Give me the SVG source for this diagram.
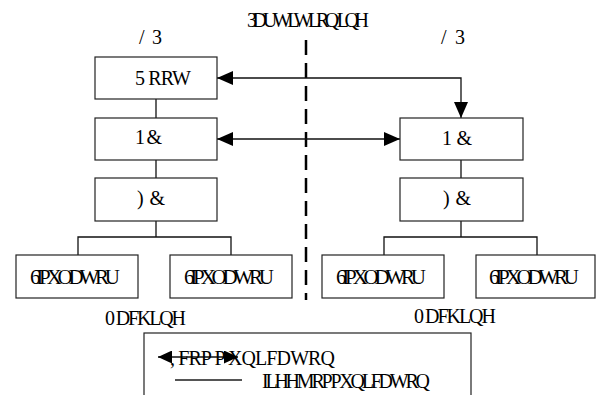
<svg xmlns="http://www.w3.org/2000/svg" width="596" height="395" viewBox="0 0 596 395">
<style>
.box{fill:#fff;stroke:#222;stroke-width:1.2}
.t{font-family:"Liberation Serif","Times New Roman",serif;font-size:20px;fill:#000}
.s{font-size:21px}
.c{fill:none;stroke:#111;stroke-width:1.3}
.a{marker-start:url(#ah);marker-end:url(#ah)}
</style>
<defs>
<marker id="ah" markerUnits="userSpaceOnUse" markerWidth="16" markerHeight="14" viewBox="0 0 16 14" refX="16" refY="7" orient="auto-start-reverse">
<path d="M0,0 L16,7 L0,14 z" fill="#000"/>
</marker>
<marker id="ahs" markerUnits="userSpaceOnUse" markerWidth="14" markerHeight="13" viewBox="0 0 14 13" refX="14" refY="6.5" orient="auto-start-reverse">
<path d="M0,0 L14,6.5 L0,13 z" fill="#000"/>
</marker>
</defs>
<rect width="596" height="395" fill="#fff"/>
<g id="partition-line">
<path d="M306,40 V300" stroke="#000" stroke-width="2.5" stroke-dasharray="15 8" fill="none"/>
<text class="t" x="247" y="27" textLength="122" lengthAdjust="spacing">3DUWLWLRQ/ LQH</text>
</g>
<g id="labels">
<text class="t" x="139" y="44" textLength="23" lengthAdjust="spacing">/ 3</text>
<text class="t" x="441" y="44" textLength="24" lengthAdjust="spacing">/ 3</text>
<text class="t" x="105" y="325" textLength="81" lengthAdjust="spacing">0 DFKLQH</text>
<text class="t" x="414" y="323" textLength="82" lengthAdjust="spacing">0 DFKLQH</text>
</g>
<g id="connectors">
<path class="c a" d="M461,118 V78 H217"/>
<path class="c a" d="M217,139 H400"/>
<path class="c" d="M156,99 V118 M156,160 V178 M156,221 V237 M461,160 V178 M461,221 V237"/>
<path class="c" d="M78,255 V237 H231 V255 M384,255 V237 H537 V255"/>
</g>
<g id="root"><rect class="box" x="95" y="57" width="122" height="42"/><text class="t" x="135" y="85" textLength="56" lengthAdjust="spacing">5 RRW</text></g>
<g id="nc-left"><rect class="box" x="95" y="118" width="122" height="42"/><text class="t" x="135" y="144" textLength="27" lengthAdjust="spacing">1 &amp;</text></g>
<g id="fc-left"><rect class="box" x="95" y="178" width="122" height="43"/><text class="t" x="137" y="205" textLength="28" lengthAdjust="spacing">) &amp;</text></g>
<g id="nc-right"><rect class="box" x="400" y="118" width="123" height="42"/><text class="t" x="442" y="145" textLength="30" lengthAdjust="spacing">1 &amp;</text></g>
<g id="fc-right"><rect class="box" x="400" y="178" width="123" height="43"/><text class="t" x="443" y="205" textLength="28" lengthAdjust="spacing">) &amp;</text></g>
<g id="sim1"><rect class="box" x="16" y="255" width="122" height="43"/><text class="t s" x="30" y="284" textLength="90" lengthAdjust="spacing">6IP XODWRU</text></g>
<g id="sim2"><rect class="box" x="170" y="255" width="122" height="43"/><text class="t s" x="184" y="284" textLength="90" lengthAdjust="spacing">6IP XODWRU</text></g>
<g id="sim3"><rect class="box" x="322" y="255" width="122" height="43"/><text class="t s" x="336" y="284" textLength="90" lengthAdjust="spacing">6IP XODWRU</text></g>
<g id="sim4"><rect class="box" x="476" y="255" width="119" height="43"/><text class="t s" x="489" y="284" textLength="90" lengthAdjust="spacing">6IP XODWRU</text></g>
<g id="legend">
<rect class="box" x="144" y="333" width="327" height="70"/>
<path d="M158,357 H238" fill="none" stroke="#111" stroke-width="1.3" marker-start="url(#ahs)" marker-end="url(#ahs)"/>
<text class="t" x="170" y="365" textLength="165" lengthAdjust="spacing">, FRP P XQLFDWRQ</text>
<path d="M175,380 H242" fill="none" stroke="#555" stroke-width="2"/>
<text class="t" x="262" y="388" textLength="168" lengthAdjust="spacing">ILHHMRP P XQLFDWRQ</text>
</g>
</svg>
